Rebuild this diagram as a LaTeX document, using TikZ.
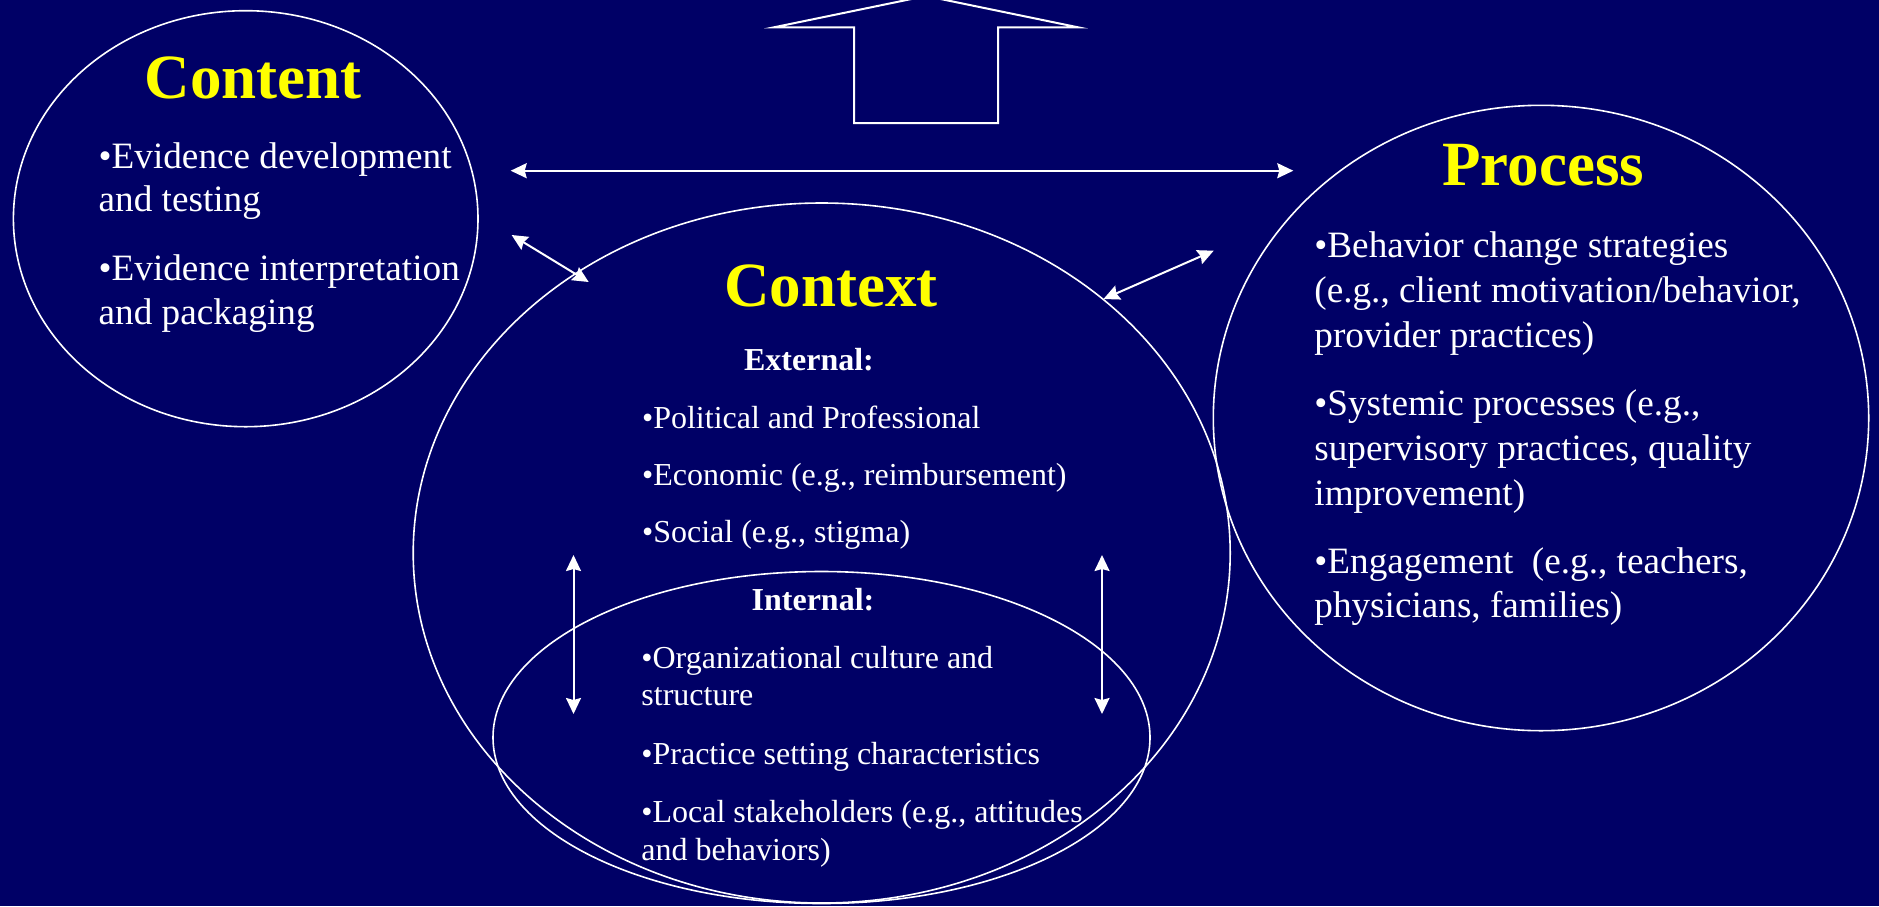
\documentclass[tikz,border=0pt]{standalone}
\usepackage{fontspec}
\setmainfont{Liberation Serif}
\usetikzlibrary{shapes.geometric,arrows.meta}

\definecolor{slidebg}{RGB}{0,0,102}
\definecolor{titleyellow}{RGB}{255,255,0}

\tikzset{
  ring/.style={draw=white, line width=0.8pt, ellipse, inner sep=0pt},
  twoway/.style={draw=white, line width=1pt,
    {Stealth[length=8pt,width=7.5pt,inset=1pt]}-{Stealth[length=8pt,width=7.5pt,inset=1pt]}},
  heading/.style={text=titleyellow, font=\fontsize{31.5}{36}\selectfont\bfseries, anchor=base, inner sep=0pt},
  bigtext/.style={text=white, font=\fontsize{18.6}{22}\selectfont, anchor=base west, inner sep=0pt},
  smalltext/.style={text=white, font=\fontsize{16}{19}\selectfont, anchor=base west, inner sep=0pt},
  subhead/.style={text=white, font=\fontsize{16}{19}\selectfont\bfseries, anchor=base, inner sep=0pt}
}

\begin{document}
\begin{tikzpicture}[x=0.5pt, y=-0.5pt]
  \useasboundingbox (0,0) rectangle (1879,906);
  \fill[slidebg] (0,0) rectangle (1879,906);

  % block arrow at the top
  \draw[white, line width=1pt, line join=miter] (854,123) -- (854,27.3) -- (774,27.3) -- (926,-4)
    -- (1078,27.3) -- (998,27.3) -- (998,123) -- cycle;

  % ellipses
  \node[ring, minimum width=232.3pt, minimum height=208pt] (content) at (245.7,218.7) {};
  \node[ring, minimum width=327.7pt, minimum height=312.7pt] (process) at (1541,418) {};
  \node[ring, minimum width=408.5pt, minimum height=350pt] (context) at (821.7,553) {};
  \node[ring, minimum width=328.5pt, minimum height=166pt] (internal) at (821.5,737.5) {};

  % arrow ends
  \coordinate (topL) at (510.7,170.7);
  \coordinate (topR) at (1293.3,170.7);
  \coordinate (diagLa) at (511.6,235);
  \coordinate (diagLb) at (588.7,282);
  \coordinate (diagRa) at (1213.7,250.7);
  \coordinate (diagRb) at (1103.5,299);
  \coordinate (vertLa) at (573.5,555);
  \coordinate (vertLb) at (573.5,714);
  \coordinate (vertRa) at (1102,555);
  \coordinate (vertRb) at (1102,714);

  \draw[twoway] (topL) -- (topR);
  \draw[twoway] (diagLa) -- (diagLb);
  \draw[twoway] (diagRa) -- (diagRb);
  \draw[twoway] (vertLa) -- (vertLb);
  \draw[twoway] (vertRa) -- (vertRb);

  % Content
  \node[heading] (contentTitle) at (253.3,98.3) {Content};
  \node[bigtext] (contentA1) at (98.3,168.3) {•Evidence development};
  \node[bigtext] (contentA2) at (98.3,211.7) {and testing};
  \node[bigtext] (contentB1) at (98.3,280.7) {•Evidence interpretation};
  \node[bigtext] (contentB2) at (98.3,324) {and packaging};

  % Context
  \node[heading] (contextTitle) at (830.8,306.7) {Context};
  \node[subhead] (externalHead) at (809,370.7) {External:};
  \node[smalltext] (externalA) at (641.7,428.3) {•Political and Professional};
  \node[smalltext] (externalB) at (641.7,485.7) {•Economic (e.g., reimbursement)};
  \node[smalltext] (externalC) at (641.7,542.7) {•Social (e.g., stigma)};
  \node[subhead] (internalHead) at (813,610.7) {Internal:};
  \node[smalltext] (internalA1) at (641,668.3) {•Organizational culture and};
  \node[smalltext] (internalA2) at (641,705.7) {structure};
  \node[smalltext] (internalB) at (641,764) {•Practice setting characteristics};
  \node[smalltext] (internalC1) at (641,822.7) {•Local stakeholders (e.g., attitudes};
  \node[smalltext] (internalC2) at (641,860) {and behaviors)};

  % Process
  \node[heading] (processTitle) at (1543.3,185) {Process};
  \node[bigtext] (processA1) at (1314,257.3) {•Behavior change strategies};
  \node[bigtext] (processA2) at (1314,302.7) {(e.g., client motivation/behavior,};
  \node[bigtext] (processA3) at (1314,347.7) {provider practices)};
  \node[bigtext] (processB1) at (1314,415) {•Systemic processes (e.g.,};
  \node[bigtext] (processB2) at (1314,460.7) {supervisory practices, quality};
  \node[bigtext] (processB3) at (1314,505) {improvement)};
  \node[bigtext] (processC1) at (1314,573.3) {•Engagement\ \ (e.g., teachers,};
  \node[bigtext] (processC2) at (1314,617.7) {physicians, families)};
\end{tikzpicture}
\end{document}
